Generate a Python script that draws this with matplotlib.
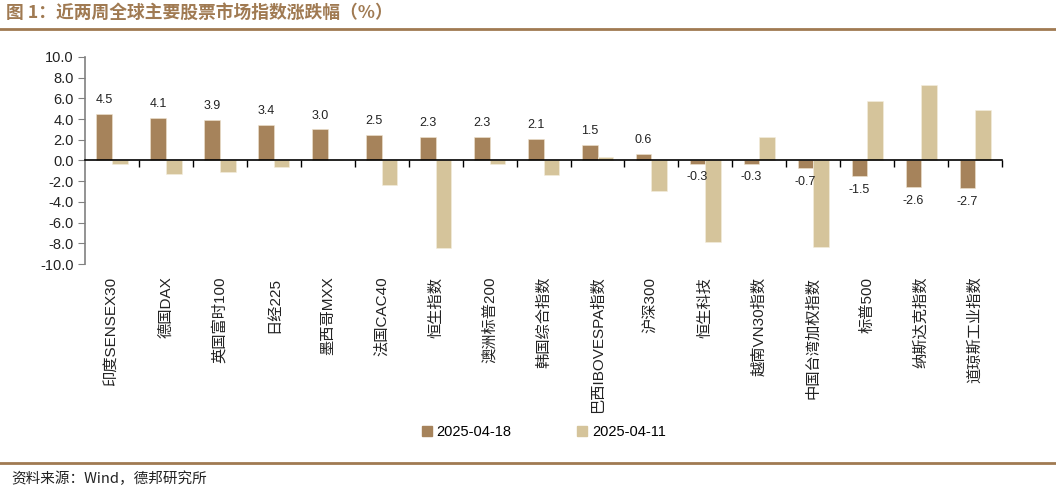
import numpy as np
import matplotlib.pyplot as plt
from matplotlib.lines import Line2D
from matplotlib.patches import Patch

plt.rcParams['font.family'] = ['Liberation Sans', 'Noto Sans CJK SC', 'DejaVu Sans']
plt.rcParams['axes.unicode_minus'] = False

# data
categories = ['印度SENSEX30', '德国DAX', '英国富时100', '日经225', '墨西哥MXX', '法国CAC40',
              '恒生指数', '澳洲标普200', '韩国综合指数', '巴西IBOVESPA指数', '沪深300',
              '恒生科技', '越南VN30指数', '中国台湾加权指数', '标普500', '纳斯达克指数',
              '道琼斯工业指数']
week_0418 = [4.5, 4.1, 3.9, 3.4, 3.0, 2.5, 2.3, 2.3, 2.1, 1.5, 0.6,
             -0.3, -0.3, -0.7, -1.5, -2.6, -2.7]
week_0411 = [-0.3, -1.3, -1.1, -0.6, 0.0, -2.4, -8.5, -0.3, -1.4, 0.3, -2.9,
             -7.9, 2.3, -8.4, 5.7, 7.3, 4.9]
series_names = ['2025-04-18', '2025-04-11']
y_ticks = np.arange(-10, 10.1, 2)

dark = '#A6835B'
light = '#D5C49B'
brown = '#A07A52'

fig = plt.figure(figsize=(10.56, 4.9), dpi=100)
ax = fig.add_axes([0.0805, 0.4612, 0.8685, 0.4225])

x = np.arange(len(categories))
w = 0.29
ax.bar(x - w / 2, week_0418, w, color=dark, edgecolor='#EFE4D0', linewidth=0.4, zorder=2)
ax.bar(x + w / 2, week_0411, w, color=light, edgecolor='#F5EEDF', linewidth=0.4, zorder=2)

for xi, v in zip(x, week_0418):
    off = 10 if v >= 0 else -10
    ax.annotate(f'{v:.1f}', (xi - w / 2, v), xytext=(0, off), textcoords='offset points',
                ha='center', va='center', fontsize=9, color='#222222')

ax.set_xlim(-0.5, len(categories) - 0.5)
ax.set_ylim(-10, 10)
ax.set_yticks(y_ticks)
ax.set_yticklabels([f'{t:.1f}' for t in y_ticks], fontsize=10.5, color='#222222')
ax.tick_params(axis='y', direction='out', length=5, color='#808080', pad=3)

for s in ['top', 'right']:
    ax.spines[s].set_visible(False)
ax.spines['left'].set_color('#808080')
ax.spines['left'].set_linewidth(1.2)
ax.spines['bottom'].set_position(('data', 0))
ax.spines['bottom'].set_color('black')
ax.spines['bottom'].set_linewidth(1.2)
ax.set_xticks(np.arange(0.5, len(categories) - 0.4, 1))
ax.set_xticklabels([])
ax.tick_params(axis='x', direction='out', length=5, color='black', width=1)

# category labels below plot
sec = ax.secondary_xaxis(0)
sec.set_xticks(x)
sec.set_xticklabels(categories, rotation=90, fontsize=11, color='#222222',
                    family=['Liberation Sans', 'Noto Sans CJK SC'])
sec.tick_params(length=0, pad=9)
sec.spines['bottom'].set_visible(False)

# legend
handles = [Patch(color=dark), Patch(color=light)]
fig.legend(handles, series_names, loc='center', bbox_to_anchor=(0.515, 1 - 432 / 490),
           ncol=2, frameon=False, fontsize=10.5, handlelength=0.7, handleheight=0.7,
           handletextpad=0.3, columnspacing=4.5)

# title, rules, source
fig.text(0.006, 1 - 13 / 490, '图 1：近两周全球主要股票市场指数涨跌幅（%）', fontsize=12.8,
         fontweight='bold', color=brown, va='center', family=['Noto Sans CJK SC'])
fig.add_artist(Line2D([0, 1], [1 - 29 / 490, 1 - 29 / 490], color=brown, lw=2))
fig.add_artist(Line2D([0, 1], [1 - 463 / 490, 1 - 463 / 490], color=brown, lw=2))
fig.text(0.011, 1 - 479 / 490, '资料来源：Wind，德邦研究所', fontsize=10.5, color='#222222',
         va='center', family=['Noto Sans CJK SC'])

fig.savefig('out.png', dpi=100)
